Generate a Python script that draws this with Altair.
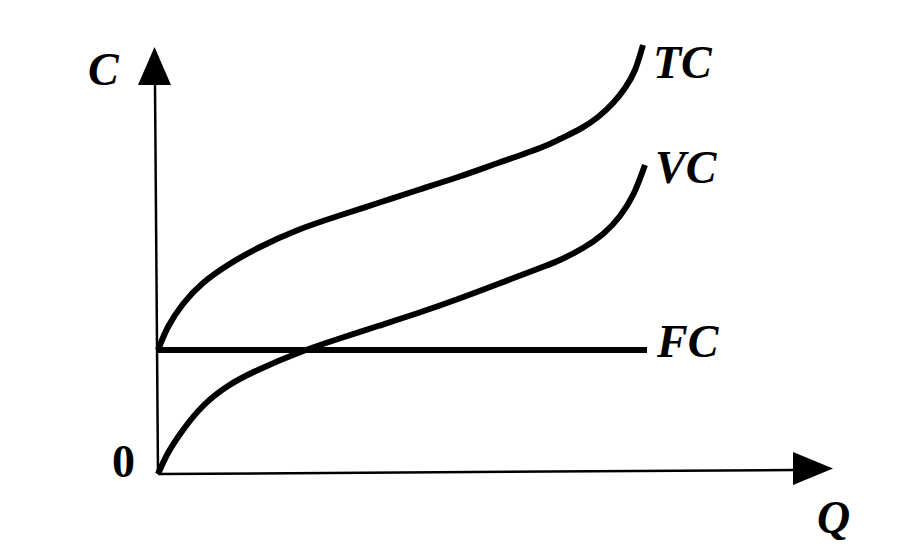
import altair as alt
import pandas as pd

# Curve readings (Q, C) in chart units, origin at the axes' corner
tc_q = [0, 10, 25, 45, 70, 100, 140, 180, 220, 260, 300, 340, 382, 402, 422, 440, 455, 467, 477, 485]
tc_c = [124, 147, 170, 191, 209, 226, 244, 258, 271, 284, 297, 311, 326, 335, 345, 357, 371, 386, 404, 429]

vc_q = [0, 10, 25, 45, 70, 100, 140, 180, 220, 260, 300, 340, 382, 402, 425, 445, 462, 476, 487]
vc_c = [0, 21, 44, 68, 88, 104, 121, 135, 148, 161, 175, 190, 206, 214, 226, 240, 258, 281, 309]

fc_q = [0, 489]
fc_c = [124, 124]

# Axes (with a slight tilt as in the scan)
xaxis_q = [0, 636]
xaxis_c = [0, 4]
yaxis_q = [0, -3]
yaxis_c = [0, 389]

# Arrow heads
arrow_q = [-3.5, 655]
arrow_c = [408, 5.5]

# Labels
label_text = ["TC", "VC", "FC", "C", "Q"]
label_q = [495, 497, 499, -70, 659]
label_c = [396, 291, 117, 389, -59]
zero_text = ["0"]
zero_q = [-46]
zero_c = [-3]

rows = []
for name, qs, cs in [("TC", tc_q, tc_c), ("VC", vc_q, vc_c), ("FC", fc_q, fc_c)]:
    for i, (q, c) in enumerate(zip(qs, cs)):
        rows.append({"series": name, "Q": q, "C": c, "order": i})
curves = pd.DataFrame(rows)

arows = []
for name, qs, cs in [("x", xaxis_q, xaxis_c), ("y", yaxis_q, yaxis_c)]:
    for i, (q, c) in enumerate(zip(qs, cs)):
        arows.append({"axis": name, "Q": q, "C": c, "order": i})
axes_df = pd.DataFrame(arows)

arrows_df = pd.DataFrame({"Q": arrow_q, "C": arrow_c, "dir": ["up", "right"]})
labels_df = pd.DataFrame({"Q": label_q, "C": label_c, "text": label_text})
zero_df = pd.DataFrame({"Q": zero_q, "C": zero_c, "text": zero_text})

xs = alt.Scale(domain=[-150, 736], nice=False, zero=False)
ys = alt.Scale(domain=[-72, 466], nice=False, zero=False)
X = lambda: alt.X("Q:Q", scale=xs, axis=None)
Y = lambda: alt.Y("C:Q", scale=ys, axis=None)

curve_layer = alt.Chart(curves).mark_line(
    color="black", strokeWidth=6, interpolate="natural", strokeCap="butt"
).encode(x=X(), y=Y(), detail="series:N", order="order:Q")

axis_layer = alt.Chart(axes_df).mark_line(color="black", strokeWidth=2.5).encode(
    x=X(), y=Y(), detail="axis:N", order="order:Q"
)

up_arrow = alt.Chart(arrows_df).transform_filter(alt.datum.dir == "up").mark_point(
    shape="M0,-1L0.87,1L-0.87,1Z", size=1444, filled=True, color="black", opacity=1
).encode(x=X(), y=Y())

right_arrow = alt.Chart(arrows_df).transform_filter(alt.datum.dir == "right").mark_point(
    shape="M1,0L-1,0.83L-1,-0.83Z", size=1600, filled=True, color="black", opacity=1
).encode(x=X(), y=Y())

label_layer = alt.Chart(labels_df).mark_text(
    font="Liberation Serif", fontSize=46, fontStyle="italic", fontWeight="bold",
    align="left", baseline="alphabetic", color="black"
).encode(x=X(), y=Y(), text="text:N")

zero_layer = alt.Chart(zero_df).mark_text(
    font="Liberation Serif", fontSize=46, fontWeight="bold",
    align="left", baseline="alphabetic", color="black"
).encode(x=X(), y=Y(), text="text:N")

chart = alt.layer(
    axis_layer, curve_layer, up_arrow, right_arrow, label_layer, zero_layer
).properties(width=886, height=538, padding=0, background="white").configure_view(stroke=None)

chart.save("out.html", embed_options={"renderer": "svg", "actions": False})
